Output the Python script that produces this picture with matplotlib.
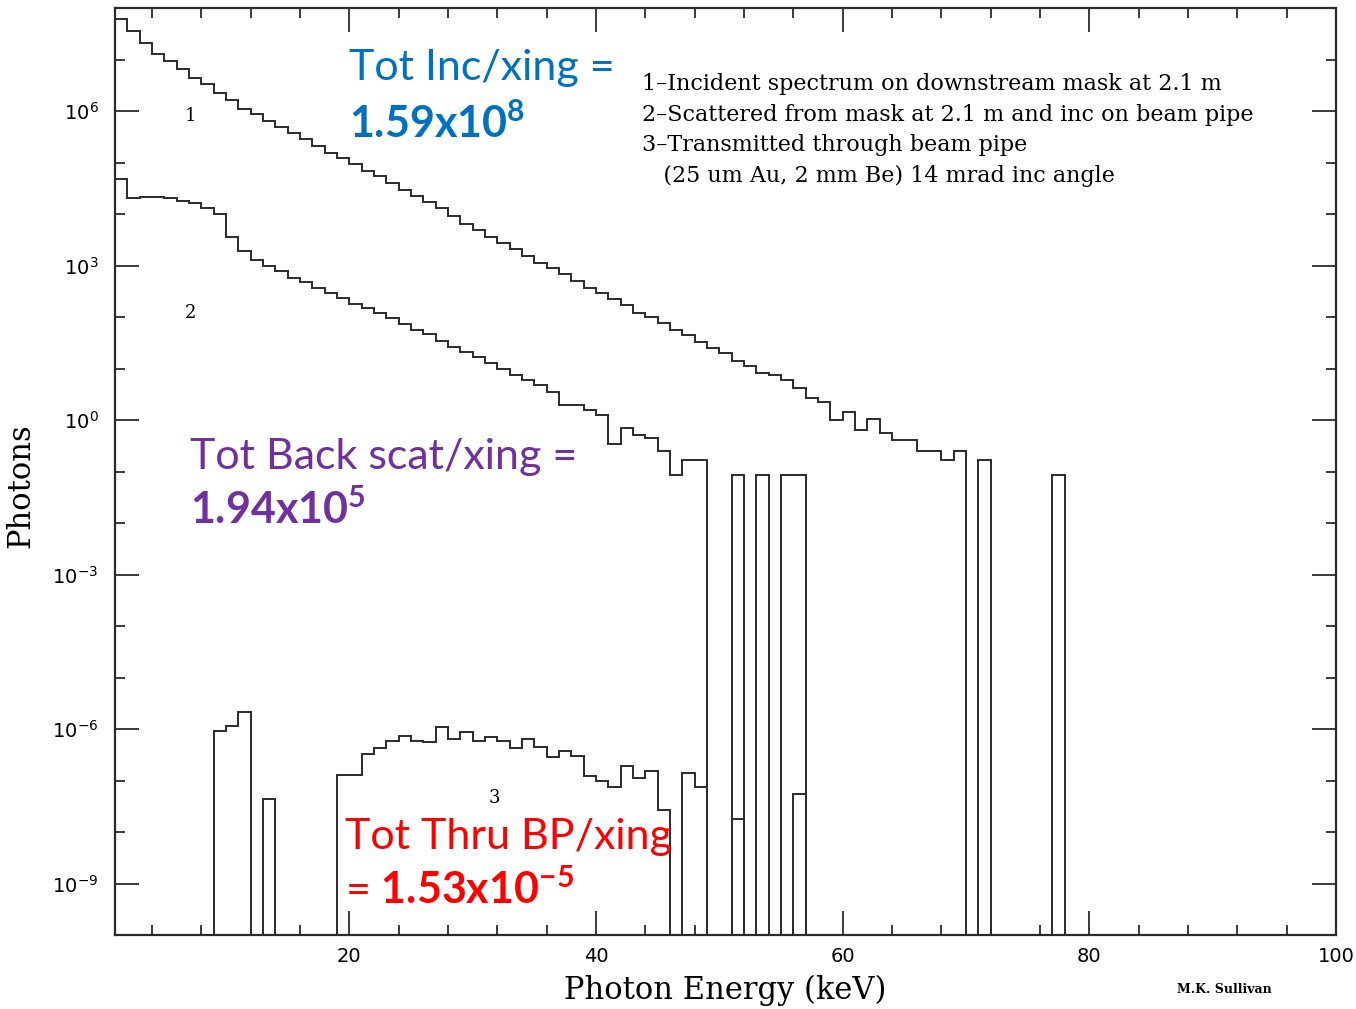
import numpy as np
import matplotlib
matplotlib.use("Agg")
import matplotlib.pyplot as plt
from matplotlib import ticker

# 1 keV wide bins from 1 to 100 keV
edges = np.arange(1, 101)

# photons per bin (0 = empty bin)
incident = [
    6.0e7, 3.5e7, 2.1e7, 1.3e7, 9.3e6, 6.5e6, 4.4e6, 3.3e6, 2.2e6, 1.6e6,
    1.1e6, 8.7e5, 6.4e5, 4.9e5, 3.7e5, 2.9e5, 2.1e5, 1.5e5, 1.2e5, 9.4e4,
    6.9e4, 5.5e4, 4.0e4, 2.9e4, 2.2e4, 1.7e4, 1.3e4, 9.3e3, 6.5e3, 4.8e3,
    3.5e3, 2.7e3, 2.1e3, 1.5e3, 1.1e3, 880, 670, 510, 370, 290,
    220, 170, 120, 98, 75, 55, 44, 32, 25, 20,
    14, 11, 8.1, 7.4, 5.9, 4.2, 2.7, 2.2, 1.0, 1.4,
    0.64, 1.05, 0.56, 0.41, 0.41, 0.25, 0.25, 0.17, 0.25, 0,
    0.17, 0, 0, 0, 0, 0, 0.085, 0, 0, 0,
    0, 0, 0, 0, 0, 0, 0, 0, 0, 0,
    0, 0, 0, 0, 0, 0, 0, 0, 0,
]
scattered = [
    4.8e4, 2.0e4, 2.1e4, 2.1e4, 2.0e4, 1.8e4, 1.6e4, 1.3e4, 1.0e4, 3.6e3,
    1.9e3, 1.3e3, 1.0e3, 790, 580, 470, 370, 290, 230, 180,
    150, 120, 94, 72, 55, 46, 34, 26, 21, 17,
    13, 10, 7.4, 5.9, 4.8, 3.5, 1.95, 1.95, 1.56, 1.25,
    0.34, 0.70, 0.51, 0.45, 0.25, 0.085, 0.17, 0.17, 0, 0,
    0.085, 0, 0.085, 0, 0.085, 0.085, 0, 0, 0, 0,
    0, 0, 0, 0, 0, 0, 0, 0, 0, 0,
    0, 0, 0, 0, 0, 0, 0, 0, 0, 0,
    0, 0, 0, 0, 0, 0, 0, 0, 0, 0,
    0, 0, 0, 0, 0, 0, 0, 0, 0,
]
transmitted = [
    0, 0, 0, 0, 0, 0, 0, 0, 9.2e-7, 1.15e-6,
    2.1e-6, 0, 4.4e-8, 0, 0, 0, 0, 0, 1.3e-7, 1.3e-7,
    3.2e-7, 4.3e-7, 5.9e-7, 7.3e-7, 5.9e-7, 5.6e-7, 1.1e-6, 6.4e-7, 8.8e-7, 5.9e-7,
    7.0e-7, 5.9e-7, 4.3e-7, 6.4e-7, 4.5e-7, 2.8e-7, 3.7e-7, 3.0e-7, 1.2e-7, 9.8e-8,
    7.6e-8, 1.9e-7, 1.1e-7, 1.5e-7, 2.7e-8, 0, 1.4e-7, 7.6e-8, 0, 0,
    1.8e-8, 0, 0, 0, 0, 5.5e-8, 0, 0, 0, 0,
    0, 0, 0, 0, 0, 0, 0, 0, 0, 0,
    0, 0, 0, 0, 0, 0, 0, 0, 0, 0,
    0, 0, 0, 0, 0, 0, 0, 0, 0, 0,
    0, 0, 0, 0, 0, 0, 0, 0, 0,
]

notes = [
    "1\u2013Incident spectrum on downstream mask at 2.1 m",
    "2\u2013Scattered from mask at 2.1 m and inc on beam pipe",
    "3\u2013Transmitted through beam pipe",
    "   (25 um Au, 2 mm Be) 14 mrad inc angle",
]

plt.rcParams['mathtext.fontset'] = 'dejavusans'
plt.rcParams['mathtext.rm'] = 'Lato'
plt.rcParams['mathtext.bf'] = 'Lato:bold'

serif = 'DejaVu Serif'
ink = '#2b2b2b'
floor = 1e-30  # empty bins fall off the bottom

fig = plt.figure(figsize=(13.56, 10.09), dpi=100)
ax = fig.add_axes([115 / 1356, 1 - 935 / 1009, 1221 / 1356, 927 / 1009])
ax.set_yscale('log')

for vals in (incident, scattered, transmitted):
    v = np.asarray(vals, dtype=float)
    ax.stairs(np.where(v > 0, v, floor), edges, baseline=floor,
              color=ink, lw=1.4)

ax.set_xlim(1, 100)
ax.set_ylim(1e-10, 1e8)

ax.xaxis.set_major_locator(ticker.MultipleLocator(20))
ax.xaxis.set_minor_locator(ticker.MultipleLocator(4))
ax.yaxis.set_major_locator(ticker.FixedLocator([1e-9, 1e-6, 1e-3, 1, 1e3, 1e6]))
ax.yaxis.set_minor_locator(ticker.LogLocator(base=10, subs=(1.0,), numticks=40))
ax.yaxis.set_major_formatter(ticker.FuncFormatter(
    lambda v, p: r'$\mathdefault{10^{%d}}$' % round(np.log10(v))))
ax.yaxis.set_minor_formatter(ticker.NullFormatter())

ax.tick_params(which='both', direction='in', top=True, right=True,
               width=1.3, color=ink, labelsize=14)
ax.tick_params(which='major', length=17)
ax.tick_params(which='minor', length=7)
ax.tick_params(axis='x', pad=9)
ax.tick_params(axis='y', pad=12)
for s in ax.spines.values():
    s.set_linewidth(1.6)
    s.set_color(ink)

ax.set_xlabel('Photon Energy (keV)', family=serif, fontsize=22)
ax.set_ylabel('Photons', family=serif, fontsize=22)
ax.xaxis.set_label_coords(0.5, -0.043)
ax.yaxis.set_label_coords(-0.064, 0.485)

# curve numbers
ax.text(7.1, 7.9e5, '1', family=serif, fontsize=13, ha='center', va='center')
ax.text(7.1, 1.2e2, '2', family=serif, fontsize=13, ha='center', va='center')
ax.text(31.8, 4.5e-8, '3', family=serif, fontsize=13, ha='center', va='center')

# description block
for i, line in enumerate(notes):
    ax.text(0.432, 0.918 - i * 0.033, line, transform=ax.transAxes,
            family=serif, fontsize=16, va='center', ha='left')

ax.text(0.870, -0.059, 'M.K. Sullivan', transform=ax.transAxes,
        family=serif, fontsize=9, fontweight='bold', va='center')

# totals
blue, purple, red = '#0070C0', '#7030A0', '#FF0000'
kw = dict(transform=ax.transAxes, family='Lato', fontsize=31,
          math_fontfamily='custom', va='baseline', ha='left')
ax.text(0.192, (935 - 80) / 927, 'Tot Inc/xing =', color=blue, **kw)
ax.text(0.192, (935 - 138) / 927, r'$\mathbf{1.59x10}^{\mathbf{8}}$', color=blue, **kw)
ax.text(0.0614, (935 - 469) / 927, 'Tot Back scat/xing =', color=purple, **kw)
ax.text(0.0614, (935 - 524) / 927, r'$\mathbf{1.94x10}^{\mathbf{5}}$', color=purple, **kw)
ax.text(0.188, (935 - 849) / 927, 'Tot Thru BP/xing', color=red, **kw)
ax.text(0.188, (935 - 904) / 927, r'= $\mathbf{1.53x10}^{\mathbf{-5}}$', color=red, **kw)

fig.savefig('out.png', dpi=100)
